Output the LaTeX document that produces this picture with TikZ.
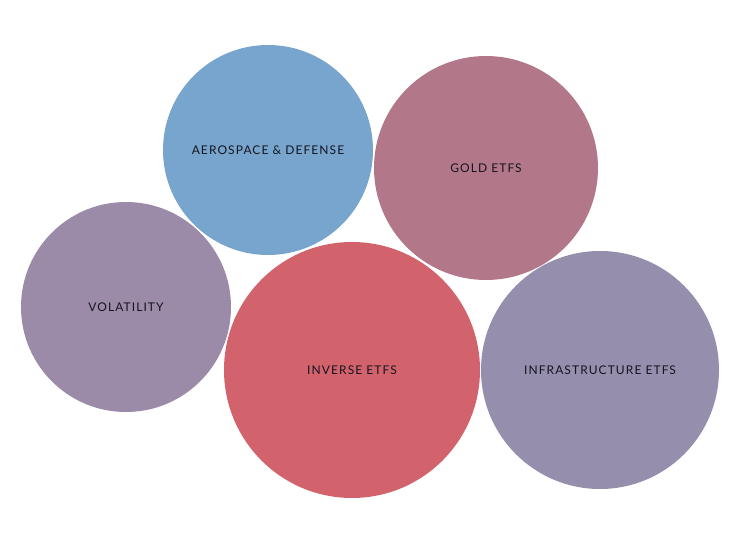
\documentclass[tikz,border=0pt]{standalone}
\usepackage{fontspec}
\setmainfont[LetterSpace=9]{Lato}
\definecolor{aeroblue}{HTML}{78A5CD}
\definecolor{goldrose}{HTML}{B27788}
\definecolor{volpurple}{HTML}{9B8AA8}
\definecolor{inversered}{HTML}{D2636D}
\definecolor{infrapurple}{HTML}{958EAD}
\definecolor{labelink}{HTML}{15151F}
\tikzset{
    bubble/.style={circle, inner sep=0pt, draw=none},
    bubblelabel/.style={text=labelink, font=\fontsize{12}{14}\selectfont}
}
\begin{document}
\begin{tikzpicture}[x=1pt, y=-1pt]
    \useasboundingbox
        (0,0) rectangle (750,553)
        ;

    \node [bubble, fill=aeroblue, minimum size=210pt]
        (aero) at (268,150) {}
        ;
    \node [bubble, fill=goldrose, minimum size=224pt]
        (gold) at (486,168) {}
        ;
    \node [bubble, fill=volpurple, minimum size=210pt]
        (vol) at (126,307) {}
        ;
    \node [bubble, fill=inversered, minimum size=256pt]
        (inverse) at (352,370) {}
        ;
    \node [bubble, fill=infrapurple, minimum size=238pt]
        (infra) at (600,370) {}
        ;

    \node [bubblelabel] at (aero) {AEROSPACE \& DEFENSE};
    \node [bubblelabel] at (gold) {GOLD ETFS};
    \node [bubblelabel] at (vol) {VOLATILITY};
    \node [bubblelabel] at (inverse) {INVERSE ETFS};
    \node [bubblelabel] at (infra) {INFRASTRUCTURE ETFS};
\end{tikzpicture}
\end{document}
